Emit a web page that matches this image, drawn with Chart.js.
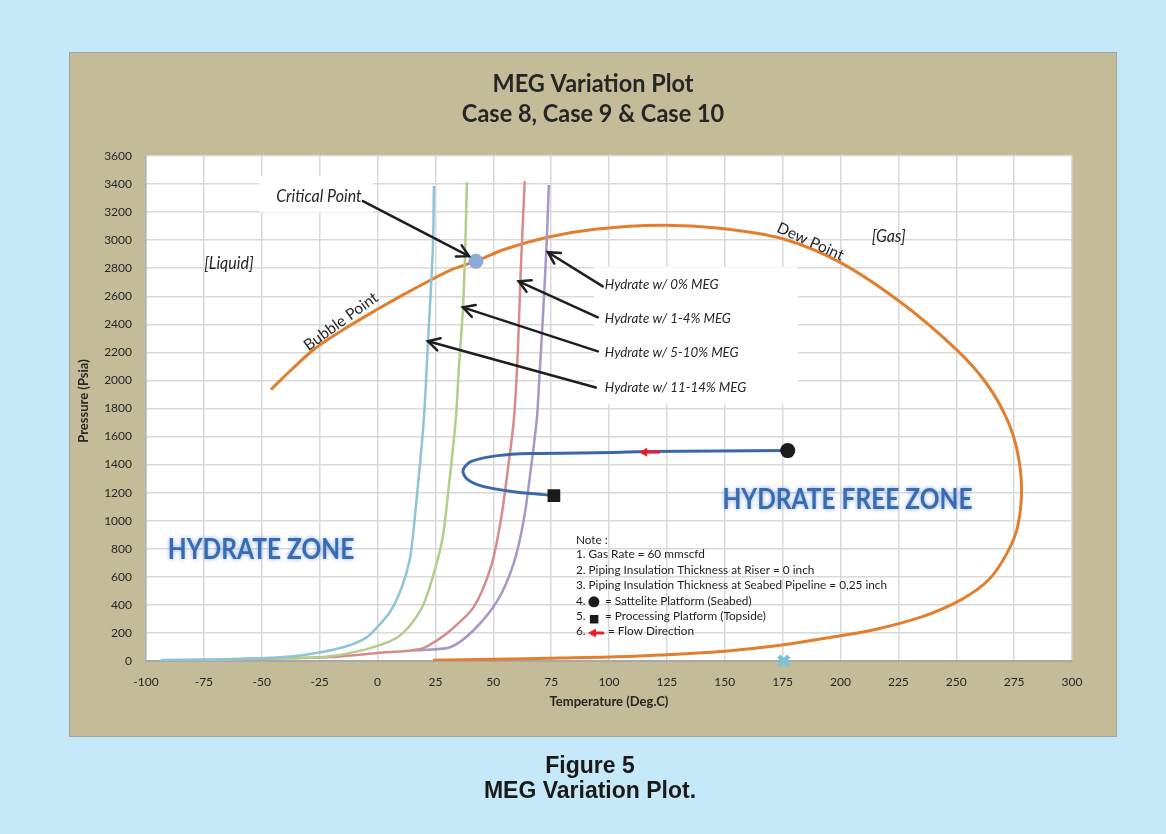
<!DOCTYPE html>
<html>
<head>
<meta charset="utf-8">
<script src="https://cdn.jsdelivr.net/npm/chart.js@4.4.0/dist/chart.umd.min.js"></script>
<style>
  html, body { margin: 0; padding: 0; background: #c6e9f9; }
  #wrap { width: 1166px; height: 834px; }
</style>
</head>
<body>
<div id="wrap"><canvas id="megChart" width="1166" height="834"></canvas></div>
<script>
// tick labels
const xTicks = [-100, -75, -50, -25, 0, 25, 50, 75, 100, 125, 150, 175, 200, 225, 250, 275, 300];
const yTicks = [0, 200, 400, 600, 800, 1000, 1200, 1400, 1600, 1800, 2000, 2200, 2400, 2600, 2800, 3000, 3200, 3400, 3600];

// phase envelope (bubble point -> critical -> dew point)
const envelopeT = [-46, -37, -27.5, -14, 0, 11, 22, 32, 42.5, 55, 73.6, 95, 122, 148, 175, 200, 226, 250, 263, 272, 276.5, 278.2, 276.5, 272, 264, 252, 235, 214, 194, 174, 150, 122, 100, 79, 50, 24];
const envelopeP = [1935, 2080, 2221, 2370, 2507, 2610, 2707, 2790, 2850, 2935, 3021, 3080, 3107, 3085, 3010, 2840, 2557, 2221, 1980, 1721, 1486, 1221, 957, 771, 579, 436, 314, 221, 164, 112, 70, 43, 28, 21, 12, 5];

// hydrate curves
const hyd1114T = [-93.5, -75, -49, -31.8, -14.5, -5, 0, 5, 8.8, 12, 14.4, 17.4, 20, 21.8, 23.9, 24.4];
const hyd1114P = [7, 10, 21, 43, 100, 165, 243, 340, 457, 600, 771, 1243, 1721, 2271, 2936, 3386];
const hyd510T = [-75, -50, -23, -5.9, 8.8, 18.7, 24.4, 28.2, 30.8, 33.8, 35.2, 36.9, 38, 38.6];
const hyd510P = [8, 18, 29, 79, 171, 364, 629, 886, 1243, 1721, 2100, 2507, 3000, 3414];
const hyd14T = [-60, -20, 0, 18.7, 25, 31.7, 41.6, 49, 53.3, 56.3, 58.9, 60.6, 61.9, 63.6];
const hyd14P = [12, 29, 57, 86, 140, 221, 386, 671, 1007, 1364, 1721, 2200, 2793, 3421];
const hyd0T = [15, 20, 31.7, 41.6, 52, 58.9, 63.2, 66.2, 68.8, 69.7, 71.4, 73.2, 74];
const hyd0P = [75, 79, 100, 221, 436, 700, 1007, 1364, 1721, 1957, 2436, 3029, 3393];

// flow line, satellite -> processing platform
const flowT = [177.2, 116, 100.8, 66.2, 52, 40.3, 36.9, 39, 45.9, 58.9, 71.8, 76.2];
const flowP = [1500, 1493, 1486, 1479, 1464, 1421, 1357, 1293, 1243, 1207, 1186, 1179];

// single points
const satelliteT = [177.2], satelliteP = [1500];
const processingT = [76.2], processingP = [1179];
const criticalT = [42.5], criticalP = [2850];
const crossT = [175.5], crossP = [0];
// flow direction arrow (tail, head)
const flowArrowT = [122, 113], flowArrowP = [1489, 1489];

function zip(t, p) {
  return t.map((v, i) => ({ x: v, y: p[i] }));
}

function lineSet(t, p, color, width, order) {
  return {
    data: zip(t, p), showLine: true, borderColor: color, borderWidth: width,
    pointRadius: 0, tension: 0.3, fill: false, order: order
  };
}

function arrow(ctx, x1, y1, x2, y2, head) {
  ctx.beginPath();
  ctx.moveTo(x1, y1);
  ctx.lineTo(x2, y2);
  ctx.stroke();
  const a = Math.atan2(y2 - y1, x2 - x1);
  ctx.beginPath();
  ctx.moveTo(x2 - head * Math.cos(a - 0.5), y2 - head * Math.sin(a - 0.5));
  ctx.lineTo(x2, y2);
  ctx.lineTo(x2 - head * Math.cos(a + 0.5), y2 - head * Math.sin(a + 0.5));
  ctx.stroke();
}

function redArrow(ctx, x1, x2, y) {
  ctx.save();
  ctx.strokeStyle = '#ee1d23';
  ctx.fillStyle = '#ee1d23';
  ctx.lineWidth = 3;
  ctx.beginPath();
  ctx.moveTo(x1, y);
  ctx.lineTo(x2 + 6, y);
  ctx.stroke();
  ctx.beginPath();
  ctx.moveTo(x2, y);
  ctx.lineTo(x2 + 8, y - 4.5);
  ctx.lineTo(x2 + 8, y + 4.5);
  ctx.closePath();
  ctx.fill();
  ctx.restore();
}

// text drawn a bit taller than the font, closer to Calibri proportions
function tallText(ctx, txt, x, y, sy) {
  ctx.save();
  ctx.translate(x, y);
  ctx.scale(1, sy);
  ctx.fillText(txt, 0, 0);
  ctx.restore();
}

const decor = {
  id: 'decor',
  beforeDraw(chart) {
    const ctx = chart.ctx, a = chart.chartArea;
    ctx.save();
    ctx.fillStyle = '#c6e9f9';
    ctx.fillRect(0, 0, chart.width, chart.height);
    ctx.fillStyle = '#c4bc98';
    ctx.fillRect(69, 52, 1047, 684);
    ctx.strokeStyle = '#a3a3a3';
    ctx.lineWidth = 1;
    ctx.strokeRect(69.5, 52.5, 1047, 684);
    ctx.fillStyle = '#ffffff';
    ctx.fillRect(a.left, a.top, a.right - a.left, a.bottom - a.top);
    ctx.restore();
  },
  afterDatasetsDraw(chart) {
    const ctx = chart.ctx;
    const X = v => chart.scales.x.getPixelForValue(v);
    const Y = v => chart.scales.y.getPixelForValue(v);
    ctx.save();

    // flow direction arrow on the line
    redArrow(ctx, X(flowArrowT[0]), X(flowArrowT[1]), Y(flowArrowP[0]));

    // label boxes
    ctx.fillStyle = '#ffffff';
    ctx.fillRect(X(-51), Y(3457), X(-2) - X(-51), Y(3200) - Y(3457));
    ctx.fillRect(X(93.4), Y(2807), X(181.5) - X(93.4), Y(1829) - Y(2807));

    ctx.fillStyle = '#262626';
    ctx.textBaseline = 'middle';
    ctx.textAlign = 'center';
    ctx.font = 'italic 16px Lato';
    tallText(ctx, 'Critical Point', X(-25.3), Y(3314), 1.08);
    tallText(ctx, '[Liquid]', X(-64.2), Y(2836), 1.08);
    tallText(ctx, '[Gas]', X(220.8), Y(3029), 1.08);

    ctx.save();
    ctx.translate(X(-15.8), Y(2420));
    ctx.rotate(-36 * Math.PI / 180);
    ctx.font = '15.5px Lato';
    ctx.fillText('Bubble Point', 0, 0);
    ctx.restore();

    ctx.save();
    ctx.translate(X(187), Y(2990));
    ctx.rotate(24 * Math.PI / 180);
    ctx.font = '15.5px Lato';
    ctx.fillText('Dew Point', 0, 0);
    ctx.restore();

    ctx.textAlign = 'left';
    ctx.font = 'italic 13.3px Lato';
    ctx.fillText('Hydrate w/ 0% MEG', X(98.2), Y(2686));
    ctx.fillText('Hydrate w/ 1-4% MEG', X(98.2), Y(2443));
    ctx.fillText('Hydrate w/ 5-10% MEG', X(98.2), Y(2200));
    ctx.fillText('Hydrate w/ 11-14% MEG', X(98.2), Y(1950));

    // pointer arrows
    ctx.strokeStyle = '#1e1e1e';
    ctx.lineWidth = 2.5;
    ctx.lineCap = 'round';
    arrow(ctx, X(-6.3), Y(3279), X(39.5), Y(2886), 13);
    arrow(ctx, X(97.3), Y(2671), X(73.6), Y(2914), 13);
    arrow(ctx, X(95.2), Y(2450), X(61), Y(2707), 13);
    arrow(ctx, X(95.2), Y(2207), X(36.9), Y(2521), 13);
    arrow(ctx, X(94.3), Y(1950), X(21.8), Y(2279), 13);

    // zone labels
    ctx.textAlign = 'center';
    ctx.font = 'bold 24.5px Lato';
    ctx.shadowColor = 'rgba(120,160,215,0.9)';
    ctx.shadowBlur = 4;
    ctx.fillStyle = '#386bb0';
    tallText(ctx, 'HYDRATE ZONE', X(-50.3), Y(793), 1.15);
    tallText(ctx, 'HYDRATE FREE ZONE', X(203), Y(1150), 1.15);
    ctx.shadowBlur = 0;
    ctx.shadowColor = 'transparent';

    // note
    ctx.textAlign = 'left';
    ctx.fillStyle = '#1e1e1e';
    ctx.font = '11.8px Lato';
    const nx = X(85.7);
    const lineP = [864, 764, 650, 543, 429, 321, 214];
    ctx.fillText('Note :', nx, Y(lineP[0]));
    ctx.fillText('1. Gas Rate = 60 mmscfd', nx, Y(lineP[1]));
    ctx.fillText('2. Piping Insulation Thickness at Riser = 0 inch', nx, Y(lineP[2]));
    ctx.fillText('3. Piping Insulation Thickness at Seabed Pipeline = 0,25 inch', nx, Y(lineP[3]));
    ctx.fillText('4.', nx, Y(lineP[4]));
    ctx.fillText('= Sattelite Platform (Seabed)', nx + 29, Y(lineP[4]));
    ctx.fillText('5.', nx, Y(lineP[5]));
    ctx.fillText('= Processing Platform (Topside)', nx + 29, Y(lineP[5]));
    ctx.fillText('6.', nx, Y(lineP[6]));
    ctx.fillText('= Flow Direction', nx + 32, Y(lineP[6]));
    ctx.fillStyle = '#1b1b1b';
    ctx.beginPath();
    ctx.arc(nx + 18, Y(lineP[4]) + 1, 5.5, 0, Math.PI * 2);
    ctx.fill();
    ctx.fillRect(nx + 14, Y(lineP[5]) - 1, 8.5, 8.5);
    redArrow(ctx, nx + 27, nx + 12, Y(lineP[6]) + 2);

    ctx.restore();
  },
  afterDraw(chart) {
    const ctx = chart.ctx, a = chart.chartArea;
    ctx.save();
    ctx.fillStyle = '#262626';
    ctx.textAlign = 'center';
    ctx.textBaseline = 'middle';
    ctx.font = 'bold 23.5px Lato';
    tallText(ctx, 'MEG Variation Plot', 593, 84, 1.05);
    tallText(ctx, 'Case 8, Case 9 & Case 10', 593, 114, 1.05);

    ctx.font = 'bold 13px Lato';
    ctx.fillText('Temperature (Deg.C)', (a.left + a.right) / 2, 702);
    ctx.save();
    ctx.translate(84, 401);
    ctx.rotate(-Math.PI / 2);
    ctx.fillText('Pressure (Psia)', 0, 0);
    ctx.restore();

    ctx.fillStyle = '#1a1a1a';
    ctx.font = 'bold 23px "Liberation Sans"';
    tallText(ctx, 'Figure 5', 590, 766, 1.05);
    tallText(ctx, 'MEG Variation Plot.', 590, 791, 1.05);
    ctx.restore();
  }
};

new Chart(document.getElementById('megChart'), {
  type: 'scatter',
  data: {
    datasets: [
      { data: zip(satelliteT, satelliteP), pointRadius: 7.5, pointBackgroundColor: '#1b1b1b', pointBorderWidth: 0, order: 1 },
      { data: zip(processingT, processingP), pointStyle: 'rect', pointRadius: 9, pointBackgroundColor: '#1b1b1b', pointBorderWidth: 0, order: 1 },
      { data: zip(criticalT, criticalP), pointRadius: 7.5, pointBackgroundColor: '#8eaad8', pointBorderWidth: 0, order: 1 },
      { data: zip(crossT, crossP), pointStyle: 'crossRot', pointRadius: 7, pointBorderColor: '#7cc3d8', pointBorderWidth: 4.5, clip: false, order: 0 },
      lineSet(flowT, flowP, '#3b69a8', 3, 2),
      lineSet(hyd1114T, hyd1114P, '#8ec4d6', 2.5, 3),
      lineSet(hyd510T, hyd510P, '#b3cd8b', 2.5, 3),
      lineSet(hyd14T, hyd14P, '#d68c8c', 2.5, 3),
      lineSet(hyd0T, hyd0P, '#a796c7', 2.5, 3),
      lineSet(envelopeT, envelopeP, '#e27f2e', 3, 4)
    ]
  },
  options: {
    responsive: false,
    animation: false,
    layout: { padding: { left: 86, right: 94, top: 156, bottom: 133 } },
    plugins: { legend: { display: false }, tooltip: { enabled: false } },
    scales: {
      x: {
        type: 'linear', min: -100, max: 300,
        afterFit: s => { s.height = 40; },
        afterBuildTicks: s => { s.ticks = xTicks.map(v => ({ value: v })); },
        grid: { color: '#d9d9d9', lineWidth: 1.5, drawTicks: false },
        border: { color: '#a8a8a8', width: 2 },
        ticks: { padding: 14, color: '#262626', font: { family: 'Lato', size: 12 }, callback: v => String(v) }
      },
      y: {
        type: 'linear', min: 0, max: 3600,
        afterFit: s => { s.width = 60; },
        afterBuildTicks: s => { s.ticks = yTicks.map(v => ({ value: v })); },
        grid: { color: '#d9d9d9', lineWidth: 1.5, drawTicks: false },
        border: { color: '#b0b0b0', width: 1.5 },
        ticks: { padding: 14, color: '#262626', font: { family: 'Lato', size: 12 }, callback: v => String(v) }
      }
    }
  },
  plugins: [decor]
});
</script>
</body>
</html>
